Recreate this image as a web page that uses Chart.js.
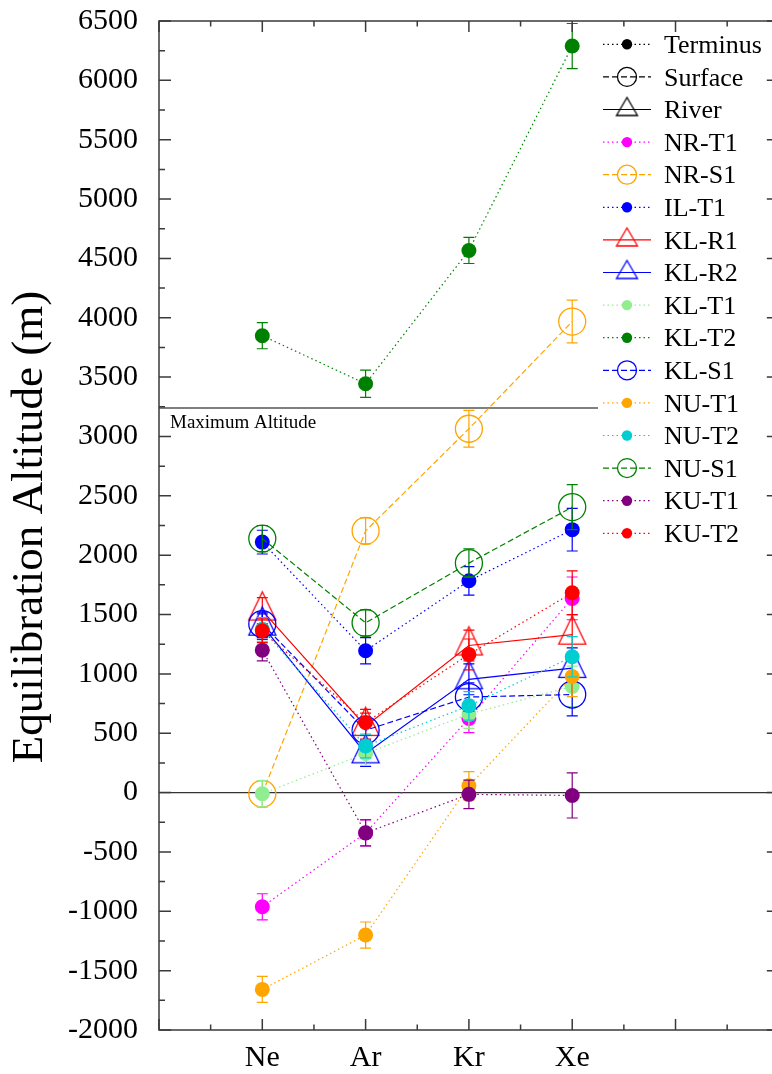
<!DOCTYPE html>
<html>
<head>
<meta charset="utf-8">
<script src="https://cdn.jsdelivr.net/npm/chart.js@4.4.0/dist/chart.umd.min.js"></script>
<style>
  html, body { margin: 0; padding: 0; background: #fff; }
  #chart { display: block; }
</style>
</head>
<body>
<canvas id="chart" width="772" height="1074"></canvas>
<script>
// categories along the x axis and where they sit on the linear scale
const categories = ['Ne', 'Ar', 'Kr', 'Xe'];
const categoryPositions = [1, 2, 3, 4];
const yTickValues = [-2000, -1500, -1000, -500, 0, 500, 1000, 1500, 2000, 2500, 3000, 3500, 4000, 4500, 5000, 5500, 6000, 6500];
const maxAltitude = 3240;

// equilibration altitudes (m) and their errors, one pair per site
const nrT1 = [-962, -340, 625, 1636];
const nrT1Err = [110, 110, 120, 180];
const nrS1 = [-10, 2205, 3065, 3968];
const nrS1Err = [110, 110, 155, 180];
const ilT1 = [2110, 1195, 1784, 2215];
const ilT1Err = [100, 110, 120, 180];
const klR1 = [1533, 560, 1239, 1330];
const klR1Err = [110, 110, 130, 170];
const klR2 = [1406, 330, 954, 1049];
const klR2Err = [100, 110, 130, 170];
const klT1 = [-10, 330, 661, 895];
const klT1Err = [110, 100, 120, 170];
const klT2 = [3849, 3444, 4567, 6289];
const klT2Err = [110, 115, 110, 190];
const klS1 = [1420, 525, 805, 826];
const klS1Err = [100, 110, 120, 180];
const nuT1 = [-1658, -1200, 57, 978];
const nuT1Err = [110, 110, 120, 170];
const nuT2 = [1375, 392, 731, 1144];
const nuT2Err = [100, 100, 120, 170];
const nuS1 = [2140, 1430, 1933, 2405];
const nuS1Err = [110, 110, 120, 190];
const kuT1 = [1200, -339, -15, -24];
const kuT1Err = [90, 110, 120, 190];
const kuT2 = [1363, 591, 1164, 1683];
const kuT2Err = [100, 110, 130, 185];

// T = terminus (dotted, filled dot), S = surface (dashed, open circle), R = river (solid, triangle)
const series = [
  { label: 'NR-T1', kind: 'T', color: '#ff00ff', values: nrT1, errors: nrT1Err },
  { label: 'NR-S1', kind: 'S', color: '#ffa500', values: nrS1, errors: nrS1Err },
  { label: 'IL-T1', kind: 'T', color: '#0000ff', values: ilT1, errors: ilT1Err },
  { label: 'KL-R1', kind: 'R', color: '#ff0000', values: klR1, errors: klR1Err },
  { label: 'KL-R2', kind: 'R', color: '#0000ff', values: klR2, errors: klR2Err },
  { label: 'KL-T1', kind: 'T', color: '#90ee90', values: klT1, errors: klT1Err },
  { label: 'KL-T2', kind: 'T', color: '#008000', values: klT2, errors: klT2Err },
  { label: 'KL-S1', kind: 'S', color: '#0000ff', values: klS1, errors: klS1Err },
  { label: 'NU-T1', kind: 'T', color: '#ffa500', values: nuT1, errors: nuT1Err },
  { label: 'NU-T2', kind: 'T', color: '#00ced1', values: nuT2, errors: nuT2Err },
  { label: 'NU-S1', kind: 'S', color: '#008000', values: nuS1, errors: nuS1Err },
  { label: 'KU-T1', kind: 'T', color: '#800080', values: kuT1, errors: kuT1Err },
  { label: 'KU-T2', kind: 'T', color: '#ff0000', values: kuT2, errors: kuT2Err }
];

const legendEntries = [
  { label: 'Terminus', kind: 'T', color: '#000000' },
  { label: 'Surface', kind: 'S', color: '#000000' },
  { label: 'River', kind: 'R', color: '#000000' }
].concat(series);

const SERIF = "'Liberation Serif', 'DejaVu Serif', serif";
const dashes = { T: [1.5, 3], S: [6, 3], R: [] };

// open triangle whose centroid is at the middle of the image
function triangleImage(color, w, h, lw) {
  const up = h * 2 / 3, down = h / 3;
  const c = document.createElement('canvas');
  c.width = Math.ceil(w + 4);
  c.height = Math.ceil(2 * up + 4);
  const ctx = c.getContext('2d');
  const cx = c.width / 2, cy = c.height / 2;
  ctx.strokeStyle = color;
  ctx.lineWidth = lw;
  ctx.beginPath();
  ctx.moveTo(cx, cy - up);
  ctx.lineTo(cx - w / 2, cy + down);
  ctx.lineTo(cx + w / 2, cy + down);
  ctx.closePath();
  ctx.stroke();
  return c;
}

const datasets = series.map((s, i) => ({
  label: s.label,
  data: s.values.map((v, j) => ({ x: categoryPositions[j], y: v })),
  errors: s.errors,
  borderColor: s.color,
  borderWidth: 1.2,
  borderDash: dashes[s.kind],
  fill: false,
  tension: 0,
  pointStyle: s.kind === 'R' ? triangleImage(s.color, 27, 28, 1.3) : 'circle',
  pointRadius: s.kind === 'T' ? 7.5 : 13.5,
  pointBackgroundColor: s.kind === 'T' ? s.color : 'rgba(0,0,0,0)',
  pointBorderColor: s.color,
  pointBorderWidth: s.kind === 'T' ? 0 : 1.3,
  order: series.length - i
}));

// error bars go under each series' own markers
const errorBars = {
  id: 'errorBars',
  beforeDatasetDraw(chart, args) {
    const ds = chart.data.datasets[args.index];
    const ctx = chart.ctx;
    const y = chart.scales.y;
    ctx.save();
    ctx.strokeStyle = ds.borderColor;
    ctx.lineWidth = 1.2;
    args.meta.data.forEach((pt, j) => {
      const v = ds.data[j].y, e = ds.errors[j];
      const y1 = y.getPixelForValue(v + e), y2 = y.getPixelForValue(v - e);
      ctx.beginPath();
      ctx.moveTo(pt.x, y1); ctx.lineTo(pt.x, y2);
      ctx.moveTo(pt.x - 5.5, y1); ctx.lineTo(pt.x + 5.5, y1);
      ctx.moveTo(pt.x - 5.5, y2); ctx.lineTo(pt.x + 5.5, y2);
      ctx.stroke();
    });
    ctx.restore();
  }
};

// zero line and the maximum altitude reference
const refLines = {
  id: 'refLines',
  beforeDatasetsDraw(chart) {
    const { ctx, chartArea, scales } = chart;
    ctx.save();
    ctx.strokeStyle = '#333';
    ctx.lineWidth = 1.4;
    const y0 = scales.y.getPixelForValue(0);
    ctx.beginPath();
    ctx.moveTo(chartArea.left, y0);
    ctx.lineTo(scales.x.getPixelForValue(6), y0);
    ctx.stroke();
    const ym = scales.y.getPixelForValue(maxAltitude);
    ctx.strokeStyle = '#000';
    ctx.lineWidth = 1.2;
    ctx.beginPath();
    ctx.moveTo(chartArea.left, ym);
    ctx.lineTo(604, ym);
    ctx.stroke();
    ctx.fillStyle = '#000';
    ctx.font = '19px ' + SERIF;
    ctx.textAlign = 'left';
    ctx.textBaseline = 'alphabetic';
    ctx.fillText('Maximum Altitude', chartArea.left + 11, ym + 20);
    ctx.restore();
  }
};

const legendBox = {
  id: 'legendBox',
  afterDatasetsDraw(chart) {
    const ctx = chart.ctx;
    ctx.save();
    ctx.fillStyle = '#fff';
    ctx.fillRect(598, 28, 174, 524);
    const y0 = 44.3, dy = 32.6;
    legendEntries.forEach((e, i) => {
      const yy = y0 + i * dy;
      ctx.strokeStyle = e.color;
      ctx.lineWidth = 1.2;
      ctx.setLineDash(dashes[e.kind]);
      ctx.beginPath();
      ctx.moveTo(603, yy);
      ctx.lineTo(651, yy);
      ctx.stroke();
      ctx.setLineDash([]);
      if (e.kind === 'T') {
        ctx.fillStyle = e.color;
        ctx.beginPath();
        ctx.arc(627, yy, 5.2, 0, Math.PI * 2);
        ctx.fill();
      } else if (e.kind === 'S') {
        ctx.lineWidth = 1.3;
        ctx.beginPath();
        ctx.arc(627, yy, 9.5, 0, Math.PI * 2);
        ctx.stroke();
      } else {
        const img = triangleImage(e.color, 21, 18, 1.3);
        ctx.drawImage(img, 627 - img.width / 2, yy - img.height / 2);
      }
      ctx.fillStyle = '#000';
      ctx.font = '26px ' + SERIF;
      ctx.textAlign = 'left';
      ctx.textBaseline = 'alphabetic';
      ctx.fillText(e.label, 664, yy + 8.6);
    });
    ctx.restore();
  }
};

// frame with inward ticks on all four sides, plus the y title
const frame = {
  id: 'frame',
  afterDraw(chart) {
    const { ctx, chartArea, scales } = chart;
    const L = chartArea.left, T = chartArea.top, B = chartArea.bottom;
    const R = scales.x.getPixelForValue(6);
    ctx.save();
    ctx.strokeStyle = '#3a3a3a';
    ctx.lineWidth = 1.5;
    ctx.strokeRect(L, T, R - L, B - T);
    ctx.beginPath();
    for (let v = -2000; v <= 6500; v += 250) {
      const yy = scales.y.getPixelForValue(v);
      const len = v % 500 === 0 ? 12 : 6;
      ctx.moveTo(L, yy); ctx.lineTo(L + len, yy);
      ctx.moveTo(R, yy); ctx.lineTo(R - len, yy);
    }
    for (let v = 0; v <= 6; v += 0.5) {
      const xx = scales.x.getPixelForValue(v);
      const len = Number.isInteger(v) ? 11 : 5.5;
      ctx.moveTo(xx, B); ctx.lineTo(xx, B - len);
      ctx.moveTo(xx, T); ctx.lineTo(xx, T + len);
    }
    ctx.stroke();

    ctx.fillStyle = '#000';
    ctx.font = '45px ' + SERIF;
    ctx.textAlign = 'center';
    ctx.textBaseline = 'alphabetic';
    ctx.translate(42, 527);
    ctx.rotate(-Math.PI / 2);
    ctx.fillText('Equilibration Altitude (m)', 0, 0);
    ctx.restore();
  }
};

// the plot box is fixed by hand, so drop the label overhang padding
function noPadding(s) {
  s.paddingLeft = 0;
  s.paddingRight = 0;
  s.paddingTop = 0;
  s.paddingBottom = 0;
}

new Chart(document.getElementById('chart'), {
  type: 'line',
  data: { datasets },
  plugins: [errorBars, refLines, legendBox, frame],
  options: {
    responsive: false,
    animation: false,
    devicePixelRatio: 1,
    layout: { autoPadding: false, padding: { left: 0, top: 21, right: 0, bottom: 0 } },
    plugins: {
      legend: { display: false },
      tooltip: { enabled: false },
      title: { display: false }
    },
    scales: {
      x: {
        type: 'linear',
        min: 0,
        max: 5.934,
        afterFit(s) { s.height = 44; noPadding(s); },
        grid: { display: false, drawTicks: false },
        border: { display: false },
        ticks: {
          stepSize: 1,
          autoSkip: false,
          maxRotation: 0,
          padding: 10,
          color: '#000',
          font: { family: SERIF, size: 30 },
          callback(v) {
            const k = categoryPositions.indexOf(v);
            return k >= 0 ? categories[k] : '';
          }
        }
      },
      y: {
        type: 'linear',
        min: yTickValues[0],
        max: yTickValues[yTickValues.length - 1],
        afterFit(s) { s.width = 159; noPadding(s); },
        afterBuildTicks(s) { s.ticks = yTickValues.map(v => ({ value: v })); },
        grid: { display: false, drawTicks: false },
        border: { display: false },
        ticks: {
          autoSkip: false,
          padding: 21,
          color: '#000',
          font: { family: SERIF, size: 30 },
          callback(v) { return String(v); }
        }
      }
    }
  }
});
</script>
</body>
</html>
